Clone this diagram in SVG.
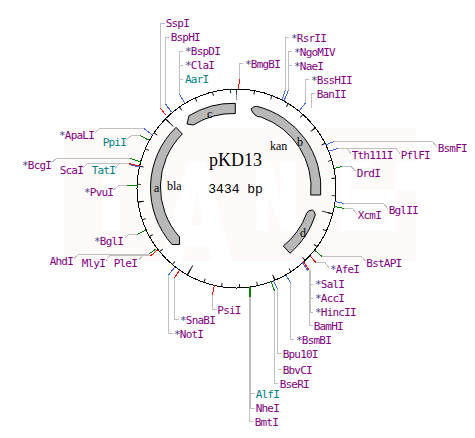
<svg xmlns="http://www.w3.org/2000/svg" width="475" height="438" viewBox="0 0 475 438">
<style>
text{font-family:"DejaVu Sans Mono","Liberation Mono",monospace;font-size:11px;letter-spacing:-.79px;fill:#800080}
text.t{fill:#008080}
.s{fill:#483d8b}
.l,.r,.b,.g,.k{fill:none;shape-rendering:crispEdges}
.l{stroke:#c0c0c0}.r{stroke:#f00}.b{stroke:#4169e1}.g{stroke:#008000}
.k{stroke:#000}
.f{fill:#b8b8b8;stroke:#000;stroke-width:1}
text.n{font-family:"Liberation Serif",serif;font-size:12px;letter-spacing:0;fill:#000}
</style>
<rect width="475" height="438" fill="#fff"/>
<g id="watermark">
<rect x="64" y="128" width="352" height="133" fill="#fffafa"/>
<path fill="#fff" d="M102 162H120V231H102ZM188 162H206L232 261H212L208 246H186L182 261H161ZM197 190L191 225H203ZM256 162H272L280 200V162H296V231H282L268 195V231H256ZM340 162H372L350 190H396V231H340ZM396 162H416V190H396Z"/>
</g>
<g id="plasmid">
<circle class="k" cx="236.5" cy="188.5" r="99.5"/>
<g transform="rotate(-90 236.5 188.5)" fill="none" stroke="#000">
<circle cx="236.5" cy="188.5" r="97.5" stroke-width="4" pathLength="3434" stroke-dasharray="5 95" stroke-dashoffset="2.5"/>
<circle cx="236.5" cy="188.5" r="96.5" stroke-width="6" pathLength="3434" stroke-dasharray="5 495" stroke-dashoffset="2.5"/>
<circle cx="236.5" cy="188.5" r="94" stroke-width="11" pathLength="3434" stroke-dasharray="5 995" stroke-dashoffset="2.5"/>
</g>
</g>
<g id="feature-a"><path class="f" d="M176 127.3L182.3 134A75 75 0 0 0 179.5 237L179.5 244.5L172 244.5A85 85 0 0 1 176 127.3Z"/><text class="n" x="154" y="192">a</text></g>
<g id="feature-b"><path class="f" d="M256.7 106.3A84.5 84.5 0 0 1 320.7 195L310.7 195A74.5 74.5 0 0 0 261.7 117.3Q256 116.5 255 115Q252 112 251 109Q253 106.5 256.7 106.3Z"/><text class="n" x="297" y="146">b</text></g>
<g id="feature-c"><path class="f" d="M235.3 103.3L235.3 113.5A75 75 0 0 0 193.3 125L187 124L189 115.7A85 85 0 0 1 235.3 103.3Z"/><text class="n" x="207" y="118">c</text></g>
<g id="feature-d"><path class="f" d="M312.3 210Q315 211 315.3 215A84 84 0 0 1 290 253.3L283.3 246A74.5 74.5 0 0 0 306.7 213.3Q308 210 312.3 210Z"/><text class="n" x="300" y="237">d</text></g>
<g id="center">
<text class="n" x="209" y="166" style="font-size:18px">pKD13</text>
<text x="208.3" y="193" style="font-family:'Liberation Mono',monospace;font-size:13px;letter-spacing:0;fill:#000">3434 bp</text>
<text class="n" x="167" y="190">bla</text>
<text class="n" x="270" y="150">kan</text>
</g>
<g id="connectors">
<path class="l" d="M165 23H160.5V108M170 37H165.5V104M183 51H179.5V94M183 65H179.5M183 79H179.5M94.5 133.5L99.5 128.5H144M126 139.5L131.5 135.5H140M51.5 162.5L56.5 158.5H130M82.5 168.5L87.5 163.5H129M115 168.5L119.5 163.5M113.5 190L118.5 185.5H127"/>
<path class="l" d="M243 63.5H239.5V79M289 37.5H285.5V90M292 51.5H288.5V90M292 65.5H288.5M309 79.5H305.5V103M314.5 93.5H311.5V108M437 147L432.5 141.5H334M400 153.5L396 148.5H338M351 154L347 148.5M355.5 171L351 166.5H342M388 209L383.5 203.5H344M356.5 214L352.5 208.5H344"/>
<path class="l" d="M124.5 238.5L128.5 234.5H137M74 258.5L78.5 254.5H149M106 260.5L110 255.5H151M138.5 260.5L142.5 255.5M173 333.5H168.5V275M179 319.5H174.5V278M216.5 309H212.5V295"/>
<path class="l" d="M365.5 261L361.5 256.5H322M329 268L325 262.5H316M309 270V325.5H313M309 284H313M309 298H313M309 312H313M294 339.5H290.5V283M281 353H277.5V289M281 369.5H277.5M278 383H274.5V291M253 421.5H249.5V297M249.5 393.5H255M249.5 408H255"/>
<path class="l" d="M310 270V312M250.5 297V408"/>
<path class="r" d="M160.5 108L165.5 115M129 163.5L139.5 166M239.5 79L238.5 89M157.5 250L150.5 256M174.5 278L179.5 270M212.5 295L214.5 285M316 262.5L310 256M309 270L303 261"/>
<path class="b" d="M165.5 104L171.5 112M179.5 94L184.5 103M144 128.5L152.5 135M129 164.5L139.5 167M285.5 90L282 100M288.5 90L284 101M305.5 103L299 111M334 141.5L325.5 145M338 148.5L329 151M344 203.5L335 201.5M168.5 275L175 267M290.5 283L286 275M277.5 289L273 280M308 271L302 262"/>
<path class="g" d="M140 135.5L148.5 140M130 158.5L141 162M127 185.5H137.5M342 166.5L334 168.5M344 208.5L334.5 206.5M137 234.5L146 230M149 254L156.5 248.5M322 256.5L315 250.5M274.5 291L271 281M249.5 297V287M250.5 297V287"/>
</g>
<g id="labels">
<g id="SspI"><text x="165.7" y="27">SspI</text></g>
<g id="BspHI"><text x="170.7" y="41">BspHI</text></g>
<g id="BspDI"><text x="185" y="55"><tspan class="s">*</tspan>BspDI</text></g>
<g id="ClaI"><text x="185" y="69"><tspan class="s">*</tspan>ClaI</text></g>
<g id="AarI"><text class="t" x="185" y="83">AarI</text></g>
<g id="ApaLI"><text x="59" y="139"><tspan class="s">*</tspan>ApaLI</text></g>
<g id="PpiI"><text class="t" x="102.7" y="146">PpiI</text></g>
<g id="BcgI"><text x="22" y="169"><tspan class="s">*</tspan>BcgI</text></g>
<g id="ScaI"><text x="59.7" y="174">ScaI</text></g>
<g id="TatI"><text class="t" x="91.7" y="174">TatI</text></g>
<g id="PvuI"><text x="84" y="196"><tspan class="s">*</tspan>PvuI</text></g>
<g id="BmgBI"><text x="245" y="68"><tspan class="s">*</tspan>BmgBI</text></g>
<g id="RsrII"><text x="291" y="42"><tspan class="s">*</tspan>RsrII</text></g>
<g id="NgoMIV"><text x="294" y="56"><tspan class="s">*</tspan>NgoMIV</text></g>
<g id="NaeI"><text x="294" y="70"><tspan class="s">*</tspan>NaeI</text></g>
<g id="BssHII"><text x="311" y="84"><tspan class="s">*</tspan>BssHII</text></g>
<g id="BanII"><text x="316.7" y="98">BanII</text></g>
<g id="BsmFI"><text x="437.7" y="152">BsmFI</text></g>
<g id="PflFI"><text x="400.7" y="159">PflFI</text></g>
<g id="Tth111I"><text x="351.7" y="159">Tth111I</text></g>
<g id="DrdI"><text x="356.7" y="177">DrdI</text></g>
<g id="BglII"><text x="388.7" y="214">BglII</text></g>
<g id="XcmI"><text x="357.7" y="219">XcmI</text></g>
<g id="BglI"><text x="94" y="245"><tspan class="s">*</tspan>BglI</text></g>
<g id="AhdI"><text x="49.7" y="265">AhdI</text></g>
<g id="MlyI"><text x="81.7" y="267">MlyI</text></g>
<g id="PleI"><text x="113.7" y="267">PleI</text></g>
<g id="NotI"><text x="174" y="338"><tspan class="s">*</tspan>NotI</text></g>
<g id="SnaBI"><text x="180" y="324"><tspan class="s">*</tspan>SnaBI</text></g>
<g id="PsiI"><text x="217.3" y="314">PsiI</text></g>
<g id="BstAPI"><text x="366.3" y="267">BstAPI</text></g>
<g id="AfeI"><text x="330" y="273"><tspan class="s">*</tspan>AfeI</text></g>
<g id="SalI"><text x="315" y="288"><tspan class="s">*</tspan>SalI</text></g>
<g id="AccI"><text x="315" y="302"><tspan class="s">*</tspan>AccI</text></g>
<g id="HincII"><text x="315" y="316"><tspan class="s">*</tspan>HincII</text></g>
<g id="BamHI"><text x="313.7" y="330">BamHI</text></g>
<g id="BsmBI"><text x="296" y="344"><tspan class="s">*</tspan>BsmBI</text></g>
<g id="Bpu10I"><text x="282.7" y="358">Bpu10I</text></g>
<g id="BbvCI"><text x="282.7" y="374">BbvCI</text></g>
<g id="BseRI"><text x="279.7" y="388">BseRI</text></g>
<g id="AlfI"><text class="t" x="255.7" y="398">AlfI</text></g>
<g id="NheI"><text x="255.7" y="412">NheI</text></g>
<g id="BmtI"><text x="254.7" y="426">BmtI</text></g>
</g>
</svg>
